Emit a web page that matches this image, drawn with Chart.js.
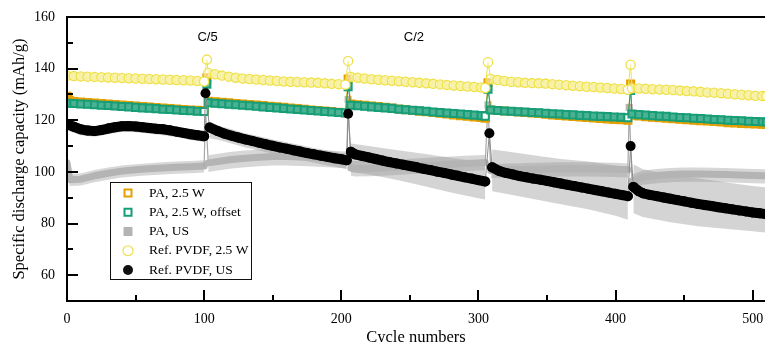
<!DOCTYPE html>
<html>
<head>
<meta charset="utf-8">
<script src="https://cdn.jsdelivr.net/npm/chart.js@4.4.1/dist/chart.umd.min.js"></script>
<style>
  html, body { margin: 0; padding: 0; background: #fff; }
  canvas { display: block; }
</style>
</head>
<body>
<canvas id="cycling" width="765" height="342"></canvas>
<script>
// ---- cycle numbers shared by the 2.5 W series (rate steps at 102, 205, 307, 411) ----
const rateCycles = [0,5,10,15,20,25,30,35,40,45,50,55,60,65,70,75,80,85,90,95,100,
  102,
  103,108,113,118,123,128,133,138,143,148,153,158,163,168,173,178,183,188,193,198,203,
  205,
  207,212,217,222,227,232,237,242,247,252,257,262,267,272,277,282,287,292,297,302,305,
  307,
  309,314,319,324,329,334,339,344,349,354,359,364,369,374,379,384,389,394,399,404,409,
  411,
  412,417,422,427,432,437,442,447,452,457,462,467,472,477,482,487,492,497,502,507,510];
const rateSpikes = [102, 205, 307, 411];
const rateSegmentEnds = [100, 203, 305, 409];

// PA, 2.5 W
const pa25W = [129.3,127.3,127.1,126.9,126.7,126.5,126.3,126.1,125.9,125.7,125.5,125.3,125.1,124.9,124.7,124.5,124.4,124.2,124.0,123.9,123.8,
  136.5,
  127.4,127.2,127.0,126.8,126.5,126.3,126.1,125.9,125.7,125.4,125.2,125.0,124.7,124.5,124.3,124.0,123.8,123.6,123.4,123.1,122.9,
  136.0,
  126.3,126.0,125.8,125.5,125.3,125.0,124.7,124.4,124.1,123.8,123.5,123.3,123.0,122.7,122.4,122.1,121.8,121.6,121.3,121.1,120.8,
  134.5,
  124.0,123.8,123.6,123.4,123.2,123.0,122.8,122.6,122.3,122.1,121.9,121.7,121.5,121.3,121.1,120.9,120.7,120.5,120.3,120.2,120.0,
  134.0,
  122.0,121.7,121.4,121.2,121.0,120.8,120.6,120.4,120.2,120.0,119.8,119.7,119.5,119.3,119.1,119.0,118.8,118.7,118.6,118.5,118.4];

// PA, 2.5 W, offset
const pa25WOffset = [126.6,126.5,126.3,126.2,126.0,125.8,125.7,125.5,125.3,125.2,125.0,124.8,124.7,124.5,124.3,124.2,124.0,123.8,123.7,123.5,123.4,
  134.0,
  126.8,126.6,126.4,126.2,126.0,125.8,125.6,125.4,125.2,125.0,124.8,124.6,124.4,124.2,124.0,123.8,123.6,123.4,123.2,123.0,122.8,
  133.0,
  125.8,125.6,125.4,125.2,125.0,124.8,124.6,124.3,124.1,123.9,123.7,123.5,123.2,123.0,122.8,122.6,122.4,122.2,122.0,121.8,121.6,
  132.0,
  124.0,123.8,123.6,123.5,123.3,123.2,123.0,122.9,122.7,122.5,122.4,122.2,122.1,121.9,121.8,121.6,121.5,121.4,121.3,121.2,121.0,
  131.5,
  122.4,122.2,122.0,121.8,121.6,121.5,121.3,121.1,121.0,120.8,120.7,120.5,120.3,120.2,120.0,119.9,119.8,119.6,119.5,119.4,119.3];

// Ref. PVDF, 2.5 W
const pvdf25W = [137.2,137.1,137.0,136.9,136.8,136.7,136.6,136.5,136.4,136.3,136.2,136.1,136.0,135.9,135.8,135.7,135.6,135.5,135.4,135.2,135.0,
  143.5,
  138.3,137.8,137.3,136.9,136.5,136.2,136.0,135.8,135.6,135.4,135.2,135.0,134.9,134.8,134.7,134.6,134.5,134.3,134.1,134.0,133.8,
  143.0,
  136.8,136.5,136.2,135.9,135.7,135.5,135.3,135.1,134.9,134.7,134.5,134.3,134.1,133.9,133.7,133.5,133.3,133.1,132.9,132.7,132.5,
  142.5,
  136.0,135.6,135.2,134.9,134.7,134.5,134.4,134.3,134.2,134.0,133.8,133.6,133.4,133.2,133.0,132.9,132.7,132.5,132.3,132.1,131.8,
  141.5,
  132.4,132.3,132.2,132.0,131.9,131.8,131.7,131.5,131.3,131.2,131.0,130.8,130.7,130.5,130.3,130.1,129.9,129.7,129.5,129.4,129.3];

// ---- PA, US: mean and spread ----
const paUsCycles = [0,2,10,20,30,40,50,60,70,80,90,100,
  101,
  103,110,120,130,140,150,160,170,180,190,200,204,
  205,
  207,210,220,230,240,250,260,270,280,290,300,305,
  307,
  309,320,330,340,350,360,370,380,390,400,409,
  410,
  412,420,430,440,450,460,470,480,490,500,510];
const paUsSpikes = [101, 205, 307, 410];
const paUs = [103.5,97.0,97.2,98.5,99.5,100.3,100.8,101.2,101.5,101.8,102.0,102.3,
  124.0,
  103.5,104.0,104.8,105.3,105.7,106.0,106.0,105.8,105.6,105.3,105.0,104.8,
  128.0,
  101.5,101.2,101.3,101.5,101.8,102.1,102.4,102.7,103.0,103.3,103.5,103.6,
  126.0,
  100.5,100.8,100.9,101.0,101.1,101.2,101.2,101.2,101.1,101.0,100.8,
  125.0,
  96.5,98.0,98.6,99.0,99.2,99.2,99.1,99.0,98.8,98.6,98.5];
const paUsUpper = [105.5,99.2,99.4,100.7,101.7,102.5,103.0,103.4,103.7,104.0,104.2,104.5,
  null,
  106.5,107.0,107.8,108.3,108.7,109.0,109.0,108.8,108.6,108.3,108.0,107.8,
  null,
  104.5,104.2,104.3,104.5,104.8,105.1,105.4,105.7,106.0,106.3,106.5,106.6,
  null,
  103.0,103.3,103.4,103.5,103.6,103.7,103.7,103.7,103.6,103.5,103.3,
  null,
  99.0,100.5,101.1,101.5,101.7,101.7,101.6,101.5,101.3,101.1,101.0];
const paUsLower = [101.5,94.5,94.7,96.0,97.0,97.8,98.3,98.7,99.0,99.3,99.5,99.8,
  null,
  100.0,100.5,101.3,101.8,102.2,102.5,102.5,102.3,102.1,101.8,101.5,101.3,
  null,
  98.5,98.2,98.3,98.5,98.8,99.1,99.4,99.7,100.0,100.3,100.5,100.6,
  null,
  97.5,97.8,97.9,98.0,98.1,98.2,98.2,98.2,98.1,98.0,97.8,
  null,
  93.5,95.0,95.6,96.0,96.2,96.2,96.1,96.0,95.8,95.6,95.5];

// ---- Ref. PVDF, US: mean and spread ----
const pvdfUsCycles = [0,5,10,15,20,25,30,35,40,45,50,55,60,65,70,75,80,85,90,95,100,
  101,
  104,110,115,120,125,130,135,140,145,150,155,160,165,170,175,180,185,190,195,200,204,
  205,
  207,210,215,220,225,230,235,240,245,250,255,260,265,270,275,280,285,290,295,300,305,
  308,
  310,315,320,325,330,335,340,345,350,355,360,365,370,375,380,385,390,395,400,405,409,
  411,
  413,417,420,425,430,435,440,445,450,455,460,465,470,475,480,485,490,495,500,505,510];
const pvdfUsSpikes = [101, 205, 308, 411];
const pvdfUs = [118.5,117.5,116.5,116.0,115.8,116.2,116.8,117.3,117.7,117.8,117.6,117.3,117.0,116.7,116.5,116.1,115.6,115.1,114.6,114.2,113.8,
  130.5,
  117.2,115.8,114.8,114.0,113.3,112.6,112.0,111.3,110.7,110.1,109.5,109.0,108.4,107.9,107.3,106.8,106.3,105.8,105.3,104.9,104.5,
  122.5,
  107.8,106.8,106.2,105.6,105.0,104.4,103.8,103.3,102.8,102.3,101.8,101.2,100.7,100.1,99.6,99.0,98.5,97.9,97.4,96.8,96.3,
  115.0,
  101.8,100.4,99.6,99.0,98.4,97.9,97.4,97.0,96.5,96.0,95.5,95.0,94.5,94.0,93.5,93.0,92.5,92.0,91.5,91.0,90.6,
  110.0,
  94.2,92.5,91.7,91.1,90.6,90.1,89.6,89.1,88.6,88.1,87.6,87.2,86.8,86.3,85.9,85.5,85.1,84.7,84.3,84.0,83.6];
const pvdfUsBandCycles = [0,10,20,30,40,50,60,70,80,90,100,
  102,
  104,110,120,130,140,150,160,170,180,190,200,204,
  206,
  207,220,240,260,280,300,305,
  308,
  310,320,340,360,380,400,409,
  411,
  413,420,440,460,480,500,510];
const pvdfUsUpper = [120.5,118.5,117.8,118.8,119.6,119.6,119.0,118.5,117.6,116.6,115.8,
  null,
  119.5,118.0,116.5,115.0,113.8,112.6,111.5,110.4,109.3,108.3,107.3,107.0,
  null,
  111.0,110.0,108.5,107.0,105.5,104.0,103.8,
  null,
  108.7,108.0,106.5,105.0,104.0,102.5,102.0,
  null,
  103.0,101.0,99.0,97.5,96.0,94.5,94.0];
const pvdfUsLower = [116.0,114.2,113.6,114.6,115.6,115.4,114.8,114.2,113.4,112.4,111.6,
  null,
  113.0,112.5,111.0,109.5,108.3,107.0,105.8,104.6,103.5,102.5,101.5,101.0,
  null,
  100.0,99.0,97.0,94.5,92.0,89.8,89.3,
  null,
  92.5,91.5,89.5,87.5,85.5,83.0,81.5,
  null,
  84.0,82.5,80.5,79.0,78.0,77.0,76.5];

// ---- axes and text ----
const xTicks = [0, 100, 200, 300, 400, 500];
const xMinorTicks = [50, 150, 250, 350, 450];
const yTicks = [60, 80, 100, 120, 140, 160];
const yMinorTicks = [70, 90, 110, 130, 150];
const rateLabels = ['C/5', 'C/2'];
const rateLabelCycles = [102.5, 253];
const rateLabelLevel = 152;
const seriesNames = ['PA, 2.5 W', 'PA, 2.5 W, offset', 'PA, US', 'Ref. PVDF, 2.5 W', 'Ref. PVDF, US'];

const ORANGE = '#E69F00';
const GREEN = '#179E77';
const GREY = '#b4b4b4';
const YELLOW = '#EFE14A';
const BLACK = '#000000';
const SERIF = "'Liberation Serif', 'DejaVu Serif', serif";
const SANS = "'Liberation Sans', Arial, sans-serif";

const pts = (xs, ys) => xs.map((c, i) => ({ x: c, y: ys[i] }));
const touches = (xs, spikes) => ctx =>
  spikes.includes(xs[ctx.p0DataIndex]) || spikes.includes(xs[ctx.p1DataIndex]);

const rateSpikeSeg = touches(rateCycles, rateSpikes);
const paUsSpikeSeg = touches(paUsCycles, paUsSpikes);
const pvdfUsSpikeSeg = touches(pvdfUsCycles, pvdfUsSpikes);
const endFill = (fill) => ctx =>
  (ctx.raw && rateSegmentEnds.includes(ctx.raw.x)) ? '#ffffff' : fill;

// dense marker trace: a thick band of the series colour under the markers, thin lines to the rate-step points
const markerTrace = (color, bandColor, width) => ({
  showLine: true, borderWidth: width, borderColor: bandColor,
  borderCapStyle: 'butt', borderJoinStyle: 'round',
  segment: {
    borderWidth: ctx => rateSpikeSeg(ctx) ? 1 : width,
    borderColor: ctx => rateSpikeSeg(ctx) ? color : bandColor
  }
});

const datasets = [
  { // 0: Ref. PVDF, US
    label: seriesNames[4], data: pts(pvdfUsCycles, pvdfUs), order: 0,
    borderColor: BLACK, borderWidth: 10, borderCapStyle: 'round', borderJoinStyle: 'round',
    pointRadius: 5, pointBackgroundColor: BLACK, pointBorderWidth: 0,
    segment: {
      borderWidth: ctx => pvdfUsSpikeSeg(ctx) ? 1 : 10,
      borderColor: ctx => pvdfUsSpikeSeg(ctx) ? '#8c8c8c' : BLACK
    }
  },
  Object.assign({ // 1: Ref. PVDF, 2.5 W
    label: seriesNames[3], data: pts(rateCycles, pvdf25W), order: 1,
    pointStyle: 'circle', pointRadius: 4.6, pointBorderWidth: 1.3, pointBorderColor: YELLOW,
    pointBackgroundColor: endFill('rgba(255,255,255,0.45)')
  }, markerTrace(YELLOW, 'rgba(240,228,70,0.85)', 8)),
  Object.assign({ // 2: PA, 2.5 W, offset
    label: seriesNames[1], data: pts(rateCycles, pa25WOffset), order: 2,
    pointStyle: 'rect', pointRadius: 5, pointBorderWidth: 2, pointBorderColor: GREEN,
    pointBackgroundColor: endFill('rgba(80,180,150,0.9)')
  }, markerTrace(GREEN, GREEN, 8)),
  Object.assign({ // 3: PA, 2.5 W
    label: seriesNames[0], data: pts(rateCycles, pa25W), order: 3,
    pointStyle: 'rect', pointRadius: 5, pointBorderWidth: 2, pointBorderColor: ORANGE,
    pointBackgroundColor: 'rgba(230,159,0,0.8)'
  }, markerTrace(ORANGE, ORANGE, 8)),
  { // 4: PA, US
    label: seriesNames[2], data: pts(paUsCycles, paUs), order: 4,
    borderColor: GREY, borderWidth: 7, borderCapStyle: 'round', borderJoinStyle: 'round',
    pointStyle: 'rect', pointBackgroundColor: GREY, pointBorderWidth: 0,
    pointRadius: ctx => (ctx.raw && paUsSpikes.includes(ctx.raw.x)) ? 5 : 0,
    segment: {
      borderWidth: ctx => paUsSpikeSeg(ctx) ? 1.2 : 7,
      borderColor: ctx => paUsSpikeSeg(ctx) ? '#a8a8a8' : GREY
    }
  },
  { // 5: PA, US spread (upper)
    label: 'paUsUpper', data: pts(paUsCycles, paUsUpper), order: 5,
    borderWidth: 0, pointRadius: 0, fill: { target: 6 }, backgroundColor: 'rgba(150,150,150,0.38)'
  },
  { // 6: PA, US spread (lower)
    label: 'paUsLower', data: pts(paUsCycles, paUsLower), order: 5,
    borderWidth: 0, pointRadius: 0, fill: false
  },
  { // 7: Ref. PVDF, US spread (upper)
    label: 'pvdfUsUpper', data: pts(pvdfUsBandCycles, pvdfUsUpper), order: 6,
    borderWidth: 0, pointRadius: 0, fill: { target: 8 }, backgroundColor: 'rgba(160,160,160,0.45)'
  },
  { // 8: Ref. PVDF, US spread (lower)
    label: 'pvdfUsLower', data: pts(pvdfUsBandCycles, pvdfUsLower), order: 6,
    borderWidth: 0, pointRadius: 0, fill: false
  }
];

// Axis frame, inward tick marks and C-rate labels
const framePlugin = {
  id: 'frame',
  afterDatasetsDraw(chart) {
    const { ctx, chartArea: a, scales: { x, y } } = chart;
    ctx.save();
    ctx.strokeStyle = '#000';
    ctx.lineWidth = 2;
    ctx.beginPath();
    ctx.moveTo(a.left, a.top); ctx.lineTo(a.right, a.top);
    ctx.moveTo(a.left, a.top - 1); ctx.lineTo(a.left, a.bottom + 1);
    ctx.moveTo(a.left, a.bottom); ctx.lineTo(a.right, a.bottom);
    yTicks.forEach(v => { const p = Math.round(y.getPixelForValue(v)); ctx.moveTo(a.left, p); ctx.lineTo(a.left + 11, p); });
    yMinorTicks.forEach(v => { const p = Math.round(y.getPixelForValue(v)); ctx.moveTo(a.left, p); ctx.lineTo(a.left + 6, p); });
    xTicks.forEach(v => { const p = Math.round(x.getPixelForValue(v)); ctx.moveTo(p, a.bottom); ctx.lineTo(p, a.bottom - 11); });
    xMinorTicks.forEach(v => { const p = Math.round(x.getPixelForValue(v)); ctx.moveTo(p, a.bottom); ctx.lineTo(p, a.bottom - 6); });
    ctx.stroke();

    ctx.fillStyle = '#000';
    ctx.font = '13px ' + SANS;
    ctx.textAlign = 'center';
    ctx.textBaseline = 'middle';
    rateLabels.forEach((t, i) =>
      ctx.fillText(t, x.getPixelForValue(rateLabelCycles[i]), y.getPixelForValue(rateLabelLevel)));
    ctx.restore();
  }
};

// Boxed legend inside the plot
const legendPlugin = {
  id: 'boxLegend',
  afterDraw(chart) {
    const ctx = chart.ctx;
    const box = { left: 110.5, top: 182.5, width: 141, height: 97 };
    const markerX = 128, textX = 149, firstRow = 193, rowGap = 19.25;
    ctx.save();
    ctx.fillStyle = '#fff';
    ctx.fillRect(box.left, box.top, box.width, box.height);
    ctx.strokeStyle = '#111';
    ctx.lineWidth = 1;
    ctx.strokeRect(box.left, box.top, box.width, box.height);
    ctx.font = '13.5px ' + SERIF;
    ctx.textBaseline = 'middle';
    ctx.textAlign = 'left';
    seriesNames.forEach((name, i) => {
      const yy = firstRow + i * rowGap;
      ctx.beginPath();
      if (i === 0 || i === 1) {
        ctx.strokeStyle = i === 0 ? ORANGE : GREEN;
        ctx.lineWidth = 2;
        ctx.strokeRect(markerX - 3.5, yy - 3.5, 7, 7);
      } else if (i === 2) {
        ctx.fillStyle = GREY;
        ctx.fillRect(markerX - 4.5, yy - 4.5, 9, 9);
      } else if (i === 3) {
        ctx.strokeStyle = YELLOW;
        ctx.lineWidth = 1.2;
        ctx.arc(markerX, yy, 5, 0, Math.PI * 2);
        ctx.stroke();
      } else {
        ctx.fillStyle = '#111';
        ctx.arc(markerX, yy, 5, 0, Math.PI * 2);
        ctx.fill();
      }
      ctx.fillStyle = '#000';
      ctx.fillText(name, textX, yy);
    });
    ctx.restore();
  }
};

new Chart(document.getElementById('cycling'), {
  type: 'line',
  data: { datasets },
  options: {
    responsive: false,
    animation: false,
    devicePixelRatio: 1,
    spanGaps: false,
    layout: { autoPadding: false, padding: { top: 17, right: 0, bottom: 0, left: 0 } },
    plugins: { legend: { display: false }, tooltip: { enabled: false } },
    scales: {
      x: {
        type: 'linear', min: 0, max: 509,
        afterBuildTicks: s => { s.ticks = xTicks.map(v => ({ value: v })); },
        afterFit: s => { s.height = 41; s.paddingLeft = 0; s.paddingRight = 0; },
        grid: { display: false, drawTicks: false },
        border: { display: false },
        ticks: { color: '#000', font: { family: SERIF, size: 14 }, padding: 10, maxRotation: 0, autoSkip: false },
        title: { display: true, text: 'Cycle numbers', color: '#000',
                 font: { family: SERIF, size: 16.5, lineHeight: 0.5 }, padding: 0 }
      },
      y: {
        type: 'linear', min: 50, max: 160,
        afterBuildTicks: s => { s.ticks = yTicks.map(v => ({ value: v })); },
        afterFit: s => { s.width = 67; s.paddingTop = 0; s.paddingBottom = 0; },
        grid: { display: false, drawTicks: false },
        border: { display: false },
        ticks: { color: '#000', font: { family: SERIF, size: 14 }, padding: 12 },
        title: { display: true, text: 'Specific discharge capacity (mAh/g)', color: '#000',
                 font: { family: SERIF, size: 16.5 }, padding: { top: 10, bottom: 0 } }
      }
    }
  },
  plugins: [framePlugin, legendPlugin]
});
</script>
</body>
</html>
